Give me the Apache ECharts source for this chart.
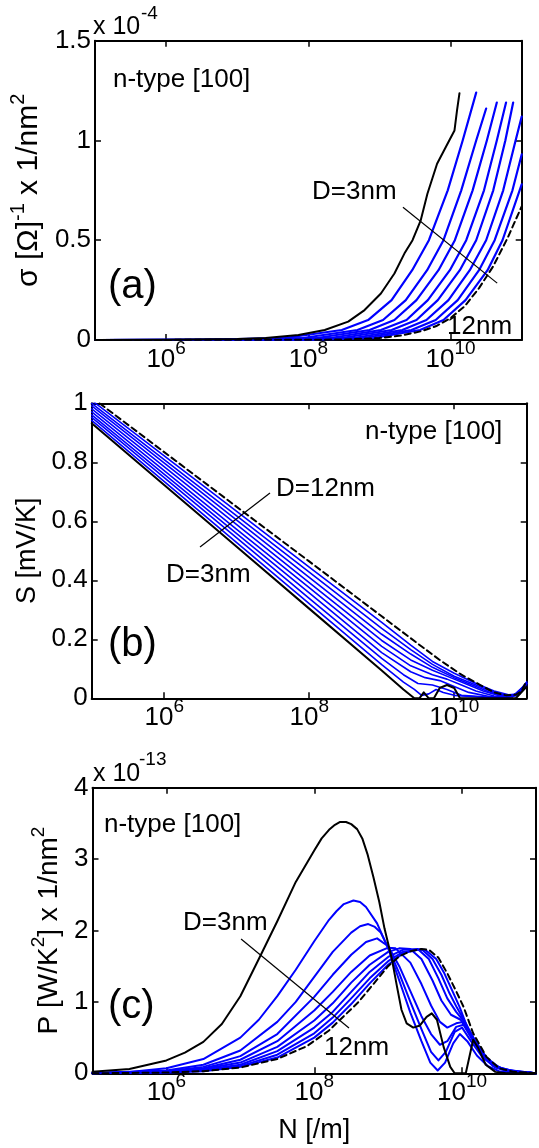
<!DOCTYPE html>
<html><head><meta charset="utf-8">
<script src="https://cdn.jsdelivr.net/npm/echarts@6/dist/echarts.min.js"></script>
<style>html,body{margin:0;padding:0;background:#fff}#c{width:539px;height:1148px}</style>
</head><body><div id="c"></div>
<script>
// ---------- DATA (pairs are [log10(N), value]) ----------
const xTickExp = [6, 8, 10];
const yTicksA = [0, 0.5, 1, 1.5];      // x 1e-4
const yTicksB = [0, 0.2, 0.4, 0.6, 0.8, 1];
const yTicksC = [0, 1, 2, 3, 4];       // x 1e-13
const diameters = ['3nm','4nm','5nm','6nm','7nm','8nm','9nm','10nm','11nm','12nm'];

// (a) conductance sigma, units of 1e-4 (1/Ohm * 1/nm^2)
const sigD3  = [[5,0],[6,0.001],[7,0.005],[7.4,0.01],[7.86,0.025],[8.23,0.05],[8.56,0.092],[8.79,0.15],[9.02,0.233],[9.21,0.333],[9.35,0.433],[9.465,0.5],[9.58,0.6],[9.674,0.733],[9.81,0.883],[9.944,0.975],[10.055,1.05],[10.09,1.15],[10.125,1.237]];
const sigD4  = [[5,0],[6.5,0.001],[7.67,0.01],[8.47,0.05],[8.84,0.1],[9.17,0.2],[9.46,0.35],[9.695,0.5],[9.96,0.75],[10.17,1.0],[10.36,1.24]];
const sigD5  = [[5,0],[6.5,0.0008],[7.92,0.01],[8.69,0.05],[9.05,0.1],[9.37,0.2],[9.67,0.35],[9.9,0.5],[10.15,0.75],[10.36,1.0],[10.5,1.16]];
const sigD6  = [[5,0],[7,0.001],[8.12,0.01],[8.86,0.05],[9.21,0.1],[9.52,0.2],[9.83,0.35],[10.06,0.5],[10.31,0.75],[10.51,1.0],[10.65,1.19]];
const sigD7  = [[5,0],[7,0.0008],[8.31,0.01],[9.02,0.05],[9.38,0.1],[9.68,0.2],[9.99,0.35],[10.22,0.5],[10.47,0.75],[10.65,1.0],[10.78,1.19]];
const sigD8  = [[5,0],[7.5,0.001],[8.47,0.01],[9.17,0.05],[9.52,0.1],[9.82,0.2],[10.13,0.35],[10.36,0.5],[10.6,0.75],[10.77,1.0],[10.88,1.19]];
const sigD9  = [[5,0],[7.5,0.0008],[8.64,0.01],[9.32,0.05],[9.66,0.1],[9.97,0.2],[10.27,0.35],[10.5,0.5],[10.74,0.75],[10.9,0.98],[11,1.12]];
const sigD10 = [[5,0],[7.5,0.0006],[8.78,0.01],[9.45,0.05],[9.79,0.1],[10.1,0.2],[10.4,0.35],[10.62,0.5],[10.87,0.75],[11,0.93]];
const sigD11 = [[5,0],[8,0.001],[8.92,0.01],[9.57,0.05],[9.9,0.1],[10.21,0.2],[10.52,0.35],[10.73,0.5],[11,0.78]];
const sigD12 = [[5,0],[8.5,0.002],[9.0,0.01],[9.3,0.022],[9.6,0.045],[9.8,0.07],[10.0,0.11],[10.2,0.17],[10.4,0.26],[10.6,0.37],[10.8,0.51],[11,0.67]];

// (b) Seebeck S, mV/K
const seeD3  = [[5,0.932],[6,0.723],[7,0.514],[8,0.304],[9,0.094],[9.3,0.03],[9.45,0.0],[9.52,0.0],[9.58,0.02],[9.65,0.0],[9.72,0.0],[9.8,0.035],[9.9,0.045],[10.0,0.035],[10.08,0.0],[10.85,0.0],[11,0.04]];
const seeD4  = [[5,0.942],[7,0.528],[8,0.321],[9,0.114],[9.3,0.055],[9.45,0.03],[9.55,0.01],[9.65,0.015],[9.75,0.03],[9.85,0.02],[10.0,0.01],[10.3,0.005],[10.6,0.0],[10.85,0.01],[11,0.04]];
const seeD5  = [[5,0.952],[7,0.544],[8,0.339],[9,0.135],[9.3,0.08],[9.5,0.05],[9.7,0.045],[9.9,0.03],[10.1,0.01],[10.4,0.005],[10.7,0.0],[10.9,0.015],[11,0.045]];
const seeD6  = [[5,0.961],[7,0.558],[8,0.357],[9,0.155],[9.4,0.09],[9.6,0.07],[9.8,0.06],[10.0,0.04],[10.2,0.02],[10.5,0.005],[10.75,0.005],[10.9,0.02],[11,0.05]];
const seeD7  = [[5,0.971],[7,0.573],[8,0.375],[9,0.176],[9.4,0.11],[9.7,0.08],[9.9,0.065],[10.1,0.045],[10.3,0.025],[10.55,0.008],[10.8,0.005],[11,0.05]];
const seeD8  = [[5,0.981],[7,0.589],[8,0.392],[9,0.196],[9.4,0.13],[9.7,0.095],[10.0,0.065],[10.2,0.045],[10.4,0.025],[10.6,0.01],[10.8,0.005],[11,0.05]];
const seeD9  = [[5,0.991],[7,0.604],[8,0.41],[9,0.217],[9.4,0.15],[9.7,0.105],[10.0,0.07],[10.3,0.04],[10.5,0.02],[10.7,0.008],[10.85,0.01],[11,0.05]];
const seeD10 = [[5,1.0],[7,0.618],[8,0.428],[9,0.237],[9.4,0.165],[9.7,0.115],[10.0,0.075],[10.3,0.045],[10.5,0.025],[10.7,0.01],[10.85,0.01],[11,0.055]];
const seeD11 = [[5,1.01],[7,0.634],[8,0.445],[9,0.257],[9.4,0.18],[9.7,0.125],[10.0,0.085],[10.3,0.05],[10.55,0.025],[10.75,0.012],[10.9,0.015],[11,0.055]];
const seeD12 = [[5,1.02],[7,0.649],[8,0.464],[9,0.278],[9.5,0.185],[9.8,0.13],[10.1,0.08],[10.36,0.045],[10.55,0.02],[10.72,0.01],[10.85,0.012],[10.93,0.025],[11,0.06]];

// (c) power factor P, units of 1e-13 (W/K^2 * 1/nm^2)
const pwD3  = [[5,0.02],[5.5,0.06],[6,0.18],[6.25,0.29],[6.5,0.44],[6.75,0.69],[7,1.08],[7.25,1.6],[7.5,2.13],[7.75,2.68],[8,3.12],[8.1,3.29],[8.2,3.41],[8.28,3.48],[8.35,3.52],[8.43,3.52],[8.5,3.49],[8.58,3.42],[8.65,3.29],[8.72,3.07],[8.8,2.75],[8.88,2.4],[8.95,2.03],[9.05,1.6],[9.12,1.21],[9.18,0.89],[9.25,0.7],[9.34,0.64],[9.43,0.67],[9.52,0.79],[9.59,0.84],[9.66,0.75],[9.75,0.37],[9.84,0.09],[9.9,0],[10.05,0],[10.15,0.47],[10.22,0.35],[10.32,0.12],[10.45,0.02],[10.6,0],[11,0]];
const pwD4  = [[5,0],[5.5,0.02],[6,0.07],[6.5,0.2],[7,0.5],[7.25,0.75],[7.5,1.08],[7.75,1.45],[8,1.85],[8.2,2.15],[8.3,2.27],[8.4,2.37],[8.53,2.42],[8.62,2.4],[8.7,2.33],[8.85,2.1],[9,1.75],[9.15,1.3],[9.3,0.85],[9.45,0.45],[9.57,0.15],[9.67,0.04],[9.77,0.15],[9.88,0.42],[9.97,0.55],[10.07,0.45],[10.2,0.25],[10.35,0.1],[10.5,0.03],[10.7,0.01],[11,0]];
const pwD5  = [[5,0],[6,0.04],[6.5,0.12],[7,0.32],[7.5,0.72],[7.75,1.0],[8,1.35],[8.25,1.7],[8.5,1.97],[8.62,2.06],[8.73,2.09],[8.82,2.05],[8.9,1.97],[9,1.76],[9.15,1.4],[9.3,1.0],[9.45,0.62],[9.58,0.3],[9.68,0.18],[9.78,0.3],[9.9,0.58],[10.0,0.64],[10.12,0.45],[10.28,0.22],[10.45,0.08],[10.65,0.02],[11,0]];
const pwD6  = [[5,0],[6,0.03],[6.5,0.09],[7,0.24],[7.5,0.55],[8,1.07],[8.25,1.38],[8.5,1.66],[8.7,1.84],[8.85,1.89],[9,1.78],[9.15,1.5],[9.3,1.15],[9.45,0.8],[9.58,0.55],[9.7,0.4],[9.8,0.45],[9.92,0.65],[10.02,0.68],[10.15,0.45],[10.3,0.22],[10.45,0.09],[10.65,0.03],[11,0]];
const pwD7  = [[5,0],[6,0.02],[6.5,0.07],[7,0.19],[7.5,0.45],[8,0.88],[8.25,1.14],[8.5,1.42],[8.75,1.65],[9,1.76],[9.1,1.75],[9.3,1.55],[9.45,1.25],[9.58,0.95],[9.7,0.72],[9.8,0.64],[9.92,0.7],[10.02,0.72],[10.15,0.5],[10.3,0.25],[10.45,0.1],[10.65,0.03],[11,0]];
const pwD8  = [[5,0],[6,0.02],[6.5,0.06],[7,0.15],[7.5,0.37],[8,0.74],[8.25,0.98],[8.5,1.27],[8.75,1.52],[9,1.7],[9.15,1.75],[9.3,1.74],[9.45,1.6],[9.6,1.3],[9.72,1.02],[9.85,0.82],[9.98,0.75],[10.12,0.52],[10.28,0.26],[10.45,0.1],[10.65,0.04],[11,0]];
const pwD9  = [[5,0],[6,0.015],[6.5,0.05],[7,0.12],[7.5,0.31],[8,0.64],[8.25,0.86],[8.5,1.14],[8.75,1.42],[9,1.63],[9.2,1.73],[9.4,1.74],[9.55,1.6],[9.68,1.33],[9.8,1.05],[9.92,0.86],[10.03,0.72],[10.18,0.45],[10.33,0.22],[10.5,0.08],[10.7,0.03],[11,0]];
const pwD10 = [[5,0],[6,0.01],[6.5,0.04],[7,0.1],[7.5,0.26],[8,0.56],[8.25,0.78],[8.5,1.05],[8.75,1.33],[9,1.57],[9.2,1.7],[9.45,1.74],[9.6,1.6],[9.72,1.38],[9.83,1.12],[9.93,0.92],[10.05,0.7],[10.22,0.36],[10.38,0.16],[10.55,0.06],[10.75,0.03],[11,0]];
const pwD11 = [[5,0],[6,0.01],[6.5,0.03],[7,0.09],[7.5,0.22],[8,0.5],[8.25,0.71],[8.5,0.97],[8.75,1.26],[9,1.52],[9.2,1.68],[9.4,1.73],[9.5,1.73],[9.65,1.6],[9.76,1.4],[9.87,1.15],[9.97,0.92],[10.08,0.62],[10.25,0.28],[10.42,0.1],[10.6,0.04],[10.8,0.02],[11,0]];
const pwD12 = [[5,0],[6,0.01],[6.5,0.03],[7,0.08],[7.5,0.2],[7.9,0.38],[8.2,0.6],[8.4,0.8],[8.6,1.0],[8.8,1.25],[9,1.5],[9.15,1.64],[9.3,1.71],[9.45,1.74],[9.55,1.73],[9.68,1.62],[9.8,1.4],[9.92,1.15],[10.02,0.93],[10.15,0.56],[10.33,0.23],[10.5,0.07],[10.7,0.02],[10.9,0.01],[11,0]];

const sigmaCurves = [sigD3,sigD4,sigD5,sigD6,sigD7,sigD8,sigD9,sigD10,sigD11,sigD12];
const seebeckCurves = [seeD3,seeD4,seeD5,seeD6,seeD7,seeD8,seeD9,seeD10,seeD11,seeD12];
const powerCurves = [pwD3,pwD4,pwD5,pwD6,pwD7,pwD8,pwD9,pwD10,pwD11,pwD12];

// annotation arrows, [log10(N), value] start -> end
const arrowA = [[9.33,0.665],[10.655,0.285]];
const arrowB = [[6.494,0.513],[7.459,0.696]];
const arrowC = [[7.01,1.88],[8.47,0.634]];

// ---------- CHART ----------
const FONT = '"Liberation Sans", Arial, sans-serif';
const chart = echarts.init(document.getElementById('c'), null, {renderer:'canvas'});
const grids = [
  {left:91.7, top:40.7, width:430, height:299.3},
  {left:91.7, top:403.3, width:435, height:295},
  {left:92.5, top:787.7, width:443.5, height:285.6}
];
const xTickVals = xTickExp.map(e => Math.pow(10, e));
const supRich = {
  b:{fontSize:26, fontFamily:FONT, color:'#000', lineHeight:28, verticalAlign:'bottom'},
  s:{fontSize:19, fontFamily:FONT, color:'#000', lineHeight:20, verticalAlign:'bottom', padding:[0,0,15,0]}
};
function xAx(gi, pos, withName) {
  const a = {
    type:'log', logBase:10, gridIndex:gi, position:pos, min:1e5, max:1e11,
    axisLine:{show:true, onZero:false, lineStyle:{color:'#000', width:2}},
    axisTick:{show:true, inside:true, length:6, customValues:xTickVals, lineStyle:{color:'#000', width:1.5}},
    axisLabel:{show:pos==='bottom', customValues:xTickVals, margin:5,
      formatter: v => '{b|10}{s|' + Math.round(Math.log10(v)) + '}', rich:supRich},
    splitLine:{show:false}, minorTick:{show:false}, minorSplitLine:{show:false}
  };
  if (withName) {
    a.name = 'N [/m]'; a.nameLocation = 'middle'; a.nameGap = 44;
    a.nameTextStyle = {fontSize:27, fontFamily:FONT, color:'#000'};
  }
  return a;
}
function nameRich(fs) {
  return {
    m:{fontSize:fs, fontFamily:FONT, color:'#000', lineHeight:fs+2, verticalAlign:'bottom'},
    s:{fontSize:Math.round(fs*0.68), fontFamily:FONT, color:'#000', lineHeight:Math.round(fs*0.7), verticalAlign:'bottom', padding:[0,0,Math.round(fs*0.52),0]}
  };
}
function yAx(gi, pos, ticks, name, gap, fs) {
  const a = {
    type:'value', gridIndex:gi, position:pos, min:ticks[0], max:ticks[ticks.length-1],
    interval:ticks[1]-ticks[0],
    axisLine:{show:true, onZero:false, lineStyle:{color:'#000', width:2}},
    axisTick:{show:true, inside:true, length:6, lineStyle:{color:'#000', width:1.5}},
    axisLabel:{show:pos==='left', margin:4, fontSize:26, fontFamily:FONT, color:'#000'},
    splitLine:{show:false}
  };
  if (name && pos === 'left') {
    a.name = name; a.nameLocation = 'middle'; a.nameRotate = 90; a.nameGap = gap;
    a.nameTextStyle = {rich:nameRich(fs)};
  }
  return a;
}
function styleFor(i, blueW) {
  if (i === 0) return {color:'#000', width:2};
  if (i === 9) return {color:'#000', width:2, type:[6,4]};
  return {color:'#0000ff', width:blueW};
}
function arrowLine(arr) {
  return {
    silent:true, symbol:['none','arrow'], symbolSize:[0,14], animation:false,
    label:{show:false}, lineStyle:{color:'#000', width:1.2, type:'solid'},
    emphasis:{disabled:true},
    data:[[{coord:[Math.pow(10,arr[0][0]), arr[0][1]]},{coord:[Math.pow(10,arr[1][0]), arr[1][1]]}]]
  };
}
const series = [];
[[sigmaCurves, 2.2, arrowA], [seebeckCurves, 1.6, arrowB], [powerCurves, 2, arrowC]].forEach(([curves, bw, arr], gi) => {
  const order = [1,2,3,4,5,6,7,8,0,9];
  order.forEach((i, k) => {
    const s = {
      type:'line', name:'D=' + diameters[i], xAxisIndex:2*gi, yAxisIndex:2*gi,
      data: curves[i].map(p => [Math.pow(10, p[0]), p[1]]),
      showSymbol:false, symbol:'none', smooth:false,
      animation:false, silent:true, clip:true,
      lineStyle:Object.assign(styleFor(i, bw), {join:'round', cap:'round'}), z: i===0||i===9 ? 4 : 3
    };
    if (k === order.length - 1) s.markLine = arrowLine(arr);
    series.push(s);
  });
});

const txt = (s, x, y, size) => ({type:'text', x:x, y:y, silent:true,
  style:{text:s, fontSize:size, fontFamily:FONT, fill:'#000', align:'left', verticalAlign:'middle'}});

chart.setOption({
  animation:false,
  backgroundColor:'#fff',
  grid: grids,
  xAxis: [xAx(0,'bottom'), xAx(0,'top'), xAx(1,'bottom'), xAx(1,'top'), xAx(2,'bottom',true), xAx(2,'top')],
  yAxis: [
    yAx(0,'left',yTicksA,'{m|σ [Ω]}{s|-1}{m| x 1/nm}{s|2}',45,30), yAx(0,'right',yTicksA),
    yAx(1,'left',yTicksB,'{m|S [mV/K]}',44,27), yAx(1,'right',yTicksB),
    yAx(2,'left',yTicksC,'{m|P [W/K}{s|2}{m|] x 1/nm}{s|2}',25,28), yAx(2,'right',yTicksC)
  ],
  series: series,
  graphic: [
    txt('x 10', 93, 27, 25),
    txt('-4', 141, 14, 19),
    txt('x 10', 93, 774, 25),
    txt('-13', 139, 760, 19),
    txt('n-type [100]', 113, 80, 26),
    txt('(a)', 108, 287, 40),
    txt('D=3nm', 312, 192, 26),
    txt('12nm', 447, 327, 26),
    txt('n-type [100]', 365, 432, 26),
    txt('D=12nm', 276, 489, 26),
    txt('D=3nm', 166, 575, 26),
    txt('(b)', 108, 645, 40),
    txt('n-type [100]', 104, 825, 26),
    txt('D=3nm', 183, 923, 26),
    txt('12nm', 324, 1048, 26),
    txt('(c)', 108, 1007, 40)
  ]
});
</script>
</body></html>
